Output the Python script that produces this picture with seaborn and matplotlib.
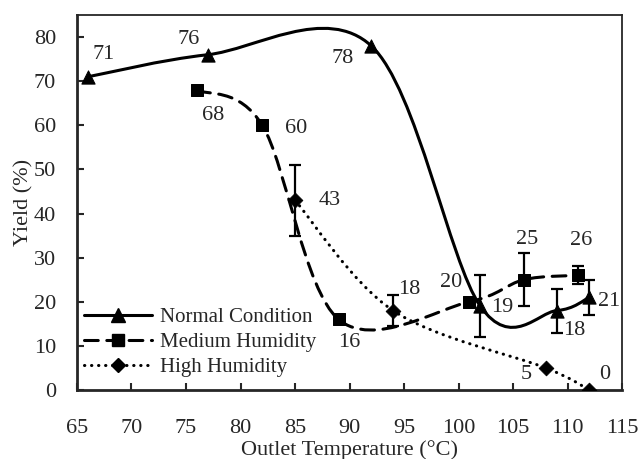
import numpy as np
import pandas as pd
import matplotlib
matplotlib.use("Agg")
import matplotlib.pyplot as plt
from matplotlib.path import Path
from matplotlib.patches import PathPatch
from matplotlib.lines import Line2D
import seaborn as sns

# datos
normal_x = [66, 77, 92, 102, 109, 112]
normal_y = [71, 76, 78, 19, 18, 21]
normal_err = [0, 0, 0, 7, 5, 4]

medium_x = [76, 82, 89, 101, 106, 111]
medium_y = [68, 60, 16, 20, 25, 26]
medium_err = [0, 0, 0, 0, 6, 2]

high_x = [85, 94, 108, 112]
high_y = [43, 18, 5, 0]
high_err = [8, 3.5, 0, 0]

series_names = ["Normal Condition", "Medium Humidity", "High Humidity"]
x_ticks = list(range(65, 116, 5))
y_ticks = list(range(0, 81, 10))

# desplazamiento de las etiquetas de valor (en puntos)
normal_off = [(11.5, 16), (-14, 11), (-21, -9), (16, -1), (13, -14), (14, -3)]
medium_off = [(11.5, -18), (24, -2), (8, -16.5), (-13, 14), (2, 29), (2, 25)]
high_off = [(25, 0), (11.5, 15), (-14, -5), (11, 11)]

FS = 16


def curva_suave(xs, ys):
    """Bezier tipo Catmull-Rom, parecido a la linea suavizada de Excel."""
    p = np.column_stack([xs, ys]).astype(float)
    ext = np.vstack([p[0], p, p[-1]])
    verts = [p[0]]
    codes = [Path.MOVETO]
    for i in range(1, len(ext) - 2):
        c1 = ext[i] + (ext[i + 1] - ext[i - 1]) / 6
        c2 = ext[i + 1] - (ext[i + 2] - ext[i]) / 6
        verts += [c1, c2, ext[i + 1]]
        codes += [Path.CURVE4] * 3
    return Path(verts, codes)


sns.set_style("ticks")
plt.rcParams["font.family"] = ["Liberation Serif", "DejaVu Serif"]
plt.rcParams["font.size"] = FS

fig = plt.figure(figsize=(6.39, 4.59), dpi=100)
ax = fig.add_axes([0.1205, 0.1503, 0.8529, 0.817])

estilos = [
    dict(x=normal_x, y=normal_y, err=normal_err, m="^", ms=9.5, ls="-", off=normal_off),
    dict(x=medium_x, y=medium_y, err=medium_err, m="s", ms=9, ls=(0, (4.5, 2.8)), off=medium_off),
    dict(x=high_x, y=high_y, err=high_err, m="D", ms=7.5, ls=(0, (0.1, 2.2)), off=high_off),
]

handles = []
for nombre, e in zip(series_names, estilos):
    patch = PathPatch(curva_suave(e["x"], e["y"]), fill=False, edgecolor="black",
                      lw=2.2, linestyle=e["ls"], capstyle="round", zorder=2)
    ax.add_patch(patch)
    df = pd.DataFrame({"x": e["x"], "y": e["y"]})
    sns.scatterplot(data=df, x="x", y="y", marker=e["m"], s=e["ms"] ** 2,
                    color="black", edgecolor="black", ax=ax, zorder=3, legend=False)
    err = np.array(e["err"], dtype=float)
    mask = err > 0
    ax.errorbar(np.array(e["x"])[mask], np.array(e["y"])[mask], yerr=err[mask],
                fmt="none", ecolor="black", elinewidth=1.6, capsize=4.5, capthick=1.6, zorder=3)
    for xv, yv, (dx, dy) in zip(e["x"], e["y"], e["off"]):
        ax.annotate(f"{yv}", (xv, yv), xytext=(dx, dy), textcoords="offset points",
                    ha="center", va="center", fontsize=FS)
    handles.append(Line2D([], [], color="black", lw=2.2, linestyle=e["ls"],
                          marker=e["m"], markersize=e["ms"], dash_capstyle="round",
                          label=nombre))

ax.set_xlim(65, 115)
ax.set_ylim(0, 85)
ax.set_xticks(x_ticks)
ax.set_yticks(y_ticks)
ax.tick_params(axis="both", direction="in", length=5, width=1.5, labelsize=FS)
ax.tick_params(axis="x", pad=21)
ax.tick_params(axis="y", pad=15)
for lado in ["left", "bottom"]:
    ax.spines[lado].set_linewidth(2)
for lado in ["top", "right"]:
    ax.spines[lado].set_linewidth(1.3)
    ax.spines[lado].set_visible(True)

ax.set_xlabel("Outlet Temperature (°C)", fontsize=FS, labelpad=1.5)
ax.set_ylabel("Yield (%)", fontsize=FS, labelpad=0)

ax.legend(handles=handles, loc="lower left", bbox_to_anchor=(0.012, 0.035), frameon=False,
          handlelength=3.3, handletextpad=0.35, labelspacing=0.25, fontsize=15,
          borderaxespad=0, borderpad=0)

fig.savefig("out.png", dpi=100)
